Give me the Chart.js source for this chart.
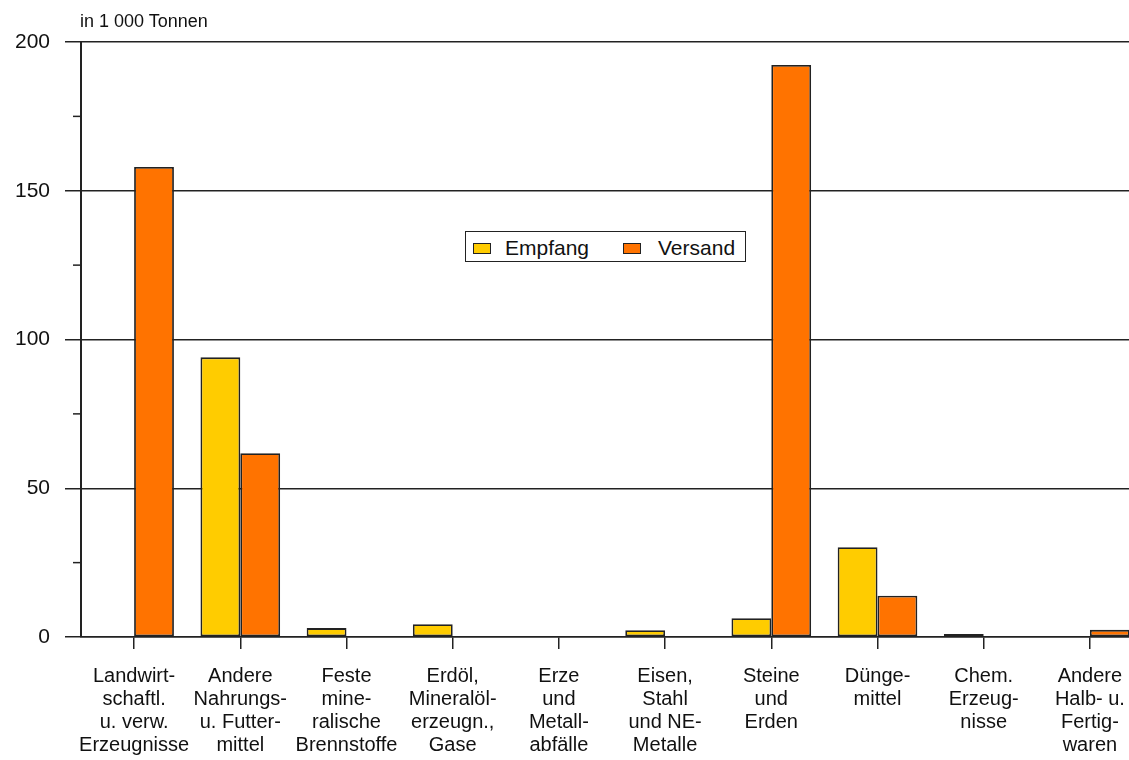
<!DOCTYPE html>
<html><head><meta charset="utf-8">
<script src="https://cdn.jsdelivr.net/npm/chart.js@4"></script>
<style>
html,body{margin:0;padding:0;background:#fff;overflow:hidden;width:1129px;height:760px;}
#wrap{position:relative;width:1145px;height:760px;}
#unit{position:absolute;left:80px;top:11px;font-family:"Liberation Sans",Arial,sans-serif;font-size:18px;color:#111;line-height:20px;white-space:nowrap;}
#legend{position:absolute;left:465px;top:231px;width:279px;height:29px;border:1.5px solid #222;background:#fff;font-family:"Liberation Sans",Arial,sans-serif;font-size:21px;color:#111;}
.item{position:absolute;top:0;height:29px;line-height:31px;white-space:nowrap;}
.sw{position:absolute;top:11px;width:16px;height:9px;border:1.5px solid #222;}
</style></head>
<body>
<div id="wrap">
<canvas id="c" width="1145" height="760"></canvas>
<div id="unit"></div>
<div id="legend"></div>
</div>
<script>
const unitLabel = "in 1 000 Tonnen";
const categories = [
  ["Landwirt-","schaftl.","u. verw.","Erzeugnisse"],
  ["Andere","Nahrungs-","u. Futter-","mittel"],
  ["Feste","mine-","ralische","Brennstoffe"],
  ["Erdöl,","Mineralöl-","erzeugn.,","Gase"],
  ["Erze","und","Metall-","abfälle"],
  ["Eisen,","Stahl","und NE-","Metalle"],
  ["Steine","und","Erden"],
  ["Dünge-","mittel"],
  ["Chem.","Erzeug-","nisse"],
  ["Andere","Halb- u.","Fertig-","waren"]
];
const seriesNames = ["Empfang","Versand"];
const empfang = [0, 94, 3, 4.3, 0, 2.3, 6.3, 30.2, 1.0, 0];
const versand = [158, 61.8, 0, 0, 0, 0, 192.3, 13.9, 0, 2.4];
const majorTicks = [0, 50, 100, 150, 200];
const minorTicks = [25, 75, 125, 175];

const colors = ["#FFCC00", "#FF7300"];
const font = '"Liberation Sans", Arial, sans-serif';
const ink = '#222';

document.getElementById('unit').textContent = unitLabel;
const lg = document.getElementById('legend');
const swLeft = [7, 157], txLeft = [39, 192];
seriesNames.forEach((n,i)=>{
  const s = document.createElement('div'); s.className='sw';
  s.style.left = swLeft[i]+'px'; s.style.background = colors[i];
  const t = document.createElement('div'); t.className='item';
  t.style.left = txLeft[i]+'px'; t.textContent = n;
  lg.appendChild(s); lg.appendChild(t);
});

const deco = {
  id: 'deco',
  afterDraw(chart){
    const ctx = chart.ctx, y = chart.scales.y;
    ctx.save();
    ctx.strokeStyle = ink; ctx.lineWidth = 1.5;
    minorTicks.forEach(v=>{
      const p = y.getPixelForValue(v);
      ctx.beginPath(); ctx.moveTo(y.right-8, p); ctx.lineTo(y.right, p); ctx.stroke();
    });
    ctx.restore();
  }
};

const isMajor = c => c.tick && majorTicks.includes(c.tick.value);

new Chart(document.getElementById('c'), {
  type: 'bar',
  data: {
    labels: categories,
    datasets: [
      {label: seriesNames[0], data: empfang, backgroundColor: colors[0], borderColor: ink, borderWidth: 1.8, borderSkipped: false, categoryPercentage: 0.75, barPercentage: 1},
      {label: seriesNames[1], data: versand, backgroundColor: colors[1], borderColor: ink, borderWidth: 1.8, borderSkipped: false, categoryPercentage: 0.75, barPercentage: 1}
    ]
  },
  options: {
    responsive: false,
    animation: false,
    layout: {padding: {top: 42, right: 2, left: 0, bottom: 0}},
    plugins: {legend: {display: false}, tooltip: {enabled: false}},
    scales: {
      x: {
        grid: {display: true, drawOnChartArea: false, drawTicks: true, tickLength: 12, offset: false, color: ink, lineWidth: 1.5},
        border: {display: true, color: ink, width: 1.5},
        ticks: {font: {family: font, size: 20, lineHeight: 1.15}, color: '#111', padding: 16, maxRotation: 0, autoSkip: false},
        afterFit(s){ s.height = 123; }
      },
      y: {
        min: 0, max: 200,
        ticks: {stepSize: 25, font: {family: font, size: 21}, color: '#111', padding: 15,
          callback: v => majorTicks.includes(v) ? String(v) : ''},
        grid: {color: c => isMajor(c) ? ink : 'rgba(0,0,0,0)', tickColor: c => isMajor(c) ? ink : 'rgba(0,0,0,0)', lineWidth: 1.5, tickLength: 16},
        border: {display: true, color: ink, width: 2},
        afterFit(s){ s.width = 81; }
      }
    }
  },
  plugins: [deco]
});
</script>
</body></html>
